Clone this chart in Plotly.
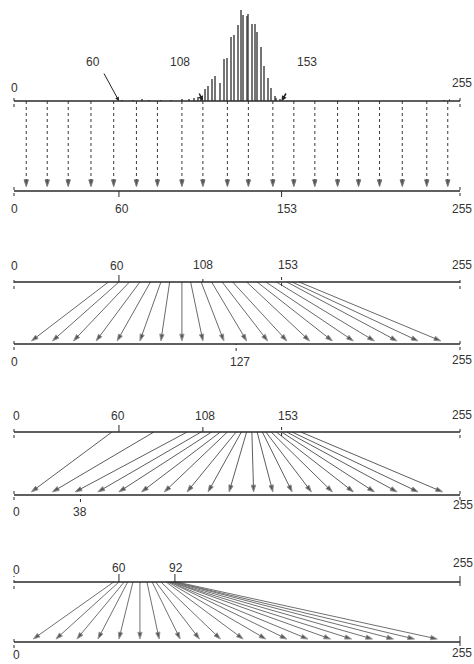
import plotly.graph_objects as go

# Grey-level histogram of the source image (counts, arbitrary units)
hist_levels = [62, 68, 73, 77, 84, 90, 96, 100, 103, 105, 107, 109, 111, 113, 115,
               118, 120, 122, 124, 126, 128, 130, 131, 133, 134, 136, 138, 139,
               141, 143, 145, 147, 149, 150, 152, 246, 249]
hist_counts = [1, 1, 2, 1, 1, 1, 2, 2, 3, 4, 5, 12, 15, 22, 25,
               18, 42, 43, 65, 67, 77, 92, 87, 86, 88, 78, 78, 70,
               55, 35, 23, 13, 5, 3, 2, 1, 2]

# Panel 1: identity mapping (input level -> output level)
p1_in = [7, 19, 31, 44, 57, 70, 82, 96, 108, 122, 134, 148, 160, 172, 185, 197, 209, 222, 236, 248]
p1_out = [7, 19, 31, 44, 57, 70, 82, 96, 108, 122, 134, 148, 160, 172, 185, 197, 209, 222, 236, 248]

# Panel 2: linear stretch of 60..153 onto 0..255
p2_in = [54, 60, 66, 72, 78, 84, 89, 96, 101, 107, 113, 119, 125, 133, 139, 144, 150, 156, 159, 163]
p2_out = [10, 22, 34, 47, 59, 72, 84, 96, 108, 120, 133, 145, 156, 169, 182, 194, 206, 219, 231, 244]

# Panel 3: histogram equalisation
p3_in = [56, 80, 99, 107, 113, 118, 122, 127, 130, 133, 136, 139, 142, 144, 147, 150, 153, 156, 159, 164]
p3_out = [10, 22, 35, 48, 60, 73, 86, 99, 111, 123, 137, 148, 159, 170, 182, 194, 206, 219, 231, 245]

# Panel 4: stretch of the dark range 60..92
p4_in = [57, 60, 63, 65, 68, 72, 76, 79, 81, 84, 87, 88, 89, 89, 90, 90, 91, 92, 92, 93]
p4_out = [11, 24, 36, 48, 60, 72, 83, 95, 106, 118, 131, 144, 156, 168, 181, 193, 205, 217, 229, 242]

# Tick values printed on each scale
p1_top_ticks = [0, 60, 108, 153, 255]
p1_bottom_ticks = [0, 60, 153, 255]
p2_top_ticks = [0, 60, 108, 153, 255]
p2_bottom_ticks = [0, 127, 255]
p3_top_ticks = [0, 60, 108, 153, 255]
p3_bottom_ticks = [0, 38, 255]
p4_top_ticks = [0, 60, 92, 255]
p4_bottom_ticks = [0, 255]

# ---------------------------------------------------------------- layout
W, H = 474, 664
X_LEFT_PX, X_RIGHT_PX = 14, 460          # where grey levels 0 and 255 sit
span = 255 * W / (X_RIGHT_PX - X_LEFT_PX)
X0 = -X_LEFT_PX * span / W
X1 = X0 + span

# (top line px, bottom line px, domain top px, domain bottom px)
panels = {
    "y":  (101, 191, 50, 218),
    "y3": (282, 344, 250, 375),
    "y4": (432, 495, 400, 525),
    "y5": (582, 642, 550, 664),
}


def axis_for(top, bot, dtop, dbot):
    s = bot - top
    return dict(domain=[1 - dbot / H, 1 - dtop / H],
                range=[-(dbot - bot) / s, 1 + (top - dtop) / s],
                visible=False, anchor="x", fixedrange=True)


fig = go.Figure()

LINE = "#2a2a2a"
FONT = dict(family="Liberation Sans, Arial, sans-serif", size=12, color="#333")

# histogram above panel 1 (thin, stippled-looking columns)
fig.add_trace(go.Bar(x=hist_levels, y=hist_counts, yaxis="y2", width=0.55,
                     marker=dict(color="#3a3a3a", opacity=0.7, line=dict(width=0)),
                     hoverinfo="skip"))


def add_arrows(ins, outs, yref, dash, line_color, head_size):
    for a, b in zip(ins, outs):
        fig.add_trace(go.Scatter(
            x=[a, b], y=[1, 0.05], yaxis=yref, mode="lines+markers",
            line=dict(color=line_color, width=1, dash=dash),
            marker=dict(symbol="arrow", angleref="previous",
                        size=[0, head_size], color="#111"),
            hoverinfo="skip"))


add_arrows(p1_in, p1_out, "y", "dot", "#3a3a3a", 7)
add_arrows(p2_in, p2_out, "y3", "solid", "#6a6a6a", 7)
add_arrows(p3_in, p3_out, "y4", "solid", "#5e5e5e", 7)
add_arrows(p4_in, p4_out, "y5", "solid", "#707070", 7)

shapes = []
annotations = []

# horizontal scales
for yref in panels:
    for yv in (1, 0):
        shapes.append(dict(type="line", xref="x", yref=yref, x0=0, x1=255,
                           y0=yv, y1=yv, line=dict(color=LINE, width=1.5)))


def tick(yref, side, value, up, down, dash="solid"):
    shapes.append(dict(type="line", xref="x", yref=yref, x0=value, x1=value,
                       ysizemode="pixel", yanchor=side, y0=-down, y1=up,
                       line=dict(color=LINE, width=1, dash=dash)))


def label(yref, side, value, dx=0, dy=0):
    annotations.append(dict(x=value, y=side, xref="x", yref=yref, text=str(value),
                            showarrow=False, xshift=dx, yshift=dy, font=FONT))


# panel 1
for v in (0, 255):
    tick("y", 1, v, 4, 6, "dot")
    tick("y", 0, v, 5, 5, "dot")
for v in (60, 153):
    tick("y", 0, v, 0, 6)
top_off = {0: (0, 13), 60: (-26, 39), 108: (-23, 39), 153: (25, 39), 255: (2, 18)}
for v in p1_top_ticks:
    label("y", 1, v, *top_off[v])
bot_off = {0: (0, -18), 60: (3, -18), 153: (5, -18), 255: (2, -18)}
for v in p1_bottom_ticks:
    label("y", 0, v, *bot_off[v])
# pointers from the labels to the histogram limits
pointers = {60: (51, 29, 1.0, 0.8), 108: (105.5, 9, 1.5, 0.7), 153: (156, 9, 1.5, 0.7)}
for v, (tx, ty, w, sz) in pointers.items():
    annotations.append(dict(x=v, y=1, xref="x", yref="y", ax=tx, ay=-ty,
                            axref="x", text="", showarrow=True, arrowhead=2,
                            arrowsize=sz, arrowwidth=w, arrowcolor="#222"))

# panel 2
for v in (0, 255):
    tick("y3", 1, v, 5, 7, "dot")
    tick("y3", 0, v, 6, 6, "dot")
tick("y3", 1, 60, 7, 0)
tick("y3", 1, 108, 6, 0, "dot")
tick("y3", 1, 153, 7, 4, "dot")
tick("y3", 0, 127, 0, 7, "dot")
p2_top_off = {0: (0, 16), 60: (-2, 16), 108: (0, 17), 153: (6, 17), 255: (2, 17)}
for v in p2_top_ticks:
    label("y3", 1, v, *p2_top_off[v])
p2_bot_off = {0: (0, -18), 127: (4, -18), 255: (2, -16)}
for v in p2_bottom_ticks:
    label("y3", 0, v, *p2_bot_off[v])

# panel 3
for v in (0, 255):
    tick("y4", 1, v, 6, 6, "dot")
    tick("y4", 0, v, 5, 5, "dot")
tick("y4", 1, 60, 7, 0)
tick("y4", 1, 108, 5, 0)
tick("y4", 1, 153, 8, 4, "dot")
tick("y4", 0, 38, 0, 7, "dot")
p3_top_off = {0: (2, 16), 60: (-1, 16), 108: (2, 16), 153: (6, 16), 255: (2, 17)}
for v in p3_top_ticks:
    label("y4", 1, v, *p3_top_off[v])
p3_bot_off = {0: (2, -17), 38: (0, -17), 255: (3, -10)}
for v in p3_bottom_ticks:
    label("y4", 0, v, *p3_bot_off[v])

# panel 4
tick("y5", 1, 0, 6, 7, "dot")
tick("y5", 1, 255, 6, 4)
tick("y5", 0, 0, 6, 6, "dot")
tick("y5", 0, 255, 6, 4)
tick("y5", 1, 60, 8, 0)
tick("y5", 1, 92, 8, 0)
p4_top_off = {0: (2, 12), 60: (0, 14), 92: (1, 14), 255: (3, 19)}
for v in p4_top_ticks:
    label("y5", 1, v, *p4_top_off[v])
p4_bot_off = {0: (2, -13), 255: (2, -11)}
for v in p4_bottom_ticks:
    label("y5", 0, v, *p4_bot_off[v])

layout_axes = {("yaxis" if k == "y" else "yaxis" + k[1:]): axis_for(*g)
               for k, g in panels.items()}

fig.update_layout(
    width=W, height=H, margin=dict(l=0, r=0, t=0, b=0),
    paper_bgcolor="white", plot_bgcolor="white", showlegend=False,
    bargap=0,
    xaxis=dict(range=[X0, X1], visible=False, fixedrange=True),
    yaxis2=dict(domain=[1 - 101 / H, 1 - 5 / H], range=[0, 97],
                visible=False, anchor="x", fixedrange=True),
    shapes=shapes, annotations=annotations,
    **layout_axes,
)

fig.write_html("out.html", config={"displayModeBar": False})
